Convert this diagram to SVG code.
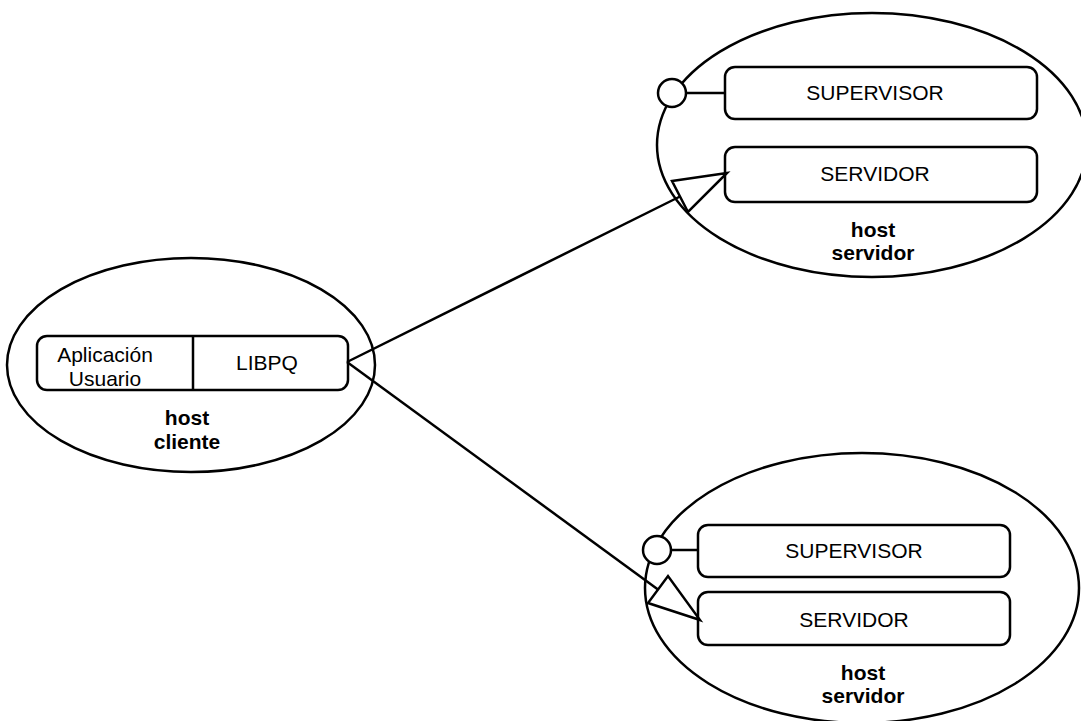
<svg xmlns="http://www.w3.org/2000/svg" width="1081" height="721" viewBox="0 0 1081 721">
  <defs>
    <style>
      .host { fill: none; stroke: #000; stroke-width: 2.5; }
      .box { fill: #fff; stroke: #000; stroke-width: 2.5; }
      .wire { fill: none; stroke: #000; stroke-width: 2.5; }
      .head { fill: #fff; stroke: #000; stroke-width: 2.5; stroke-linejoin: miter; }
      .port { fill: #fff; stroke: #000; stroke-width: 2.5; }
      .lbl { font-family: "Liberation Sans", Arial, sans-serif; font-size: 21px; fill: #000; text-anchor: middle; }
      .bold { font-weight: bold; }
    </style>
  </defs>
  <rect width="1081" height="721" fill="#fff"/>

  <!-- client host -->
  <g id="host-cliente">
    <ellipse class="host" cx="191" cy="365" rx="184" ry="107"/>
    <rect class="box" x="37" y="336" width="311" height="54" rx="10"/>
    <line class="wire" x1="193" y1="336" x2="193" y2="390"/>
    <text class="lbl" x="105" y="362">Aplicación</text>
    <text class="lbl" x="105" y="386">Usuario</text>
    <text class="lbl" x="267" y="370">LIBPQ</text>
    <text class="lbl bold" x="187" y="425">host</text>
    <text class="lbl bold" x="187" y="449">cliente</text>
  </g>

  <!-- server host (top) -->
  <g id="host-servidor-1">
    <ellipse class="host" cx="872" cy="145" rx="215" ry="132"/>
    <rect class="box" x="725" y="67" width="312" height="52" rx="10"/>
    <rect class="box" x="725" y="147" width="312" height="55" rx="10"/>
    <line class="wire" x1="686" y1="93" x2="725" y2="93"/>
    <circle class="port" cx="672" cy="93" r="14"/>
    <text class="lbl" x="875" y="100">SUPERVISOR</text>
    <text class="lbl" x="875" y="181">SERVIDOR</text>
    <text class="lbl bold" x="873" y="237">host</text>
    <text class="lbl bold" x="873" y="260">servidor</text>
  </g>

  <!-- server host (bottom) -->
  <g id="host-servidor-2">
    <ellipse class="host" cx="862" cy="588" rx="217" ry="135"/>
    <rect class="box" x="698" y="525" width="312" height="52" rx="10"/>
    <rect class="box" x="698" y="592" width="312" height="53" rx="10"/>
    <line class="wire" x1="671" y1="550" x2="698" y2="550"/>
    <circle class="port" cx="657" cy="550" r="14"/>
    <text class="lbl" x="854" y="558">SUPERVISOR</text>
    <text class="lbl" x="854" y="627">SERVIDOR</text>
    <text class="lbl bold" x="863" y="680">host</text>
    <text class="lbl bold" x="863" y="703">servidor</text>
  </g>

  <!-- connectors with hollow triangular heads -->
  <g id="connectors">
    <line class="wire" x1="347" y1="362" x2="680" y2="196.5"/>
    <polygon class="head" points="727,173 672,181 688,212"/>
    <line class="wire" x1="347" y1="362" x2="658" y2="589.5"/>
    <polygon class="head" points="700,620 648,603 668,576"/>
  </g>
</svg>
